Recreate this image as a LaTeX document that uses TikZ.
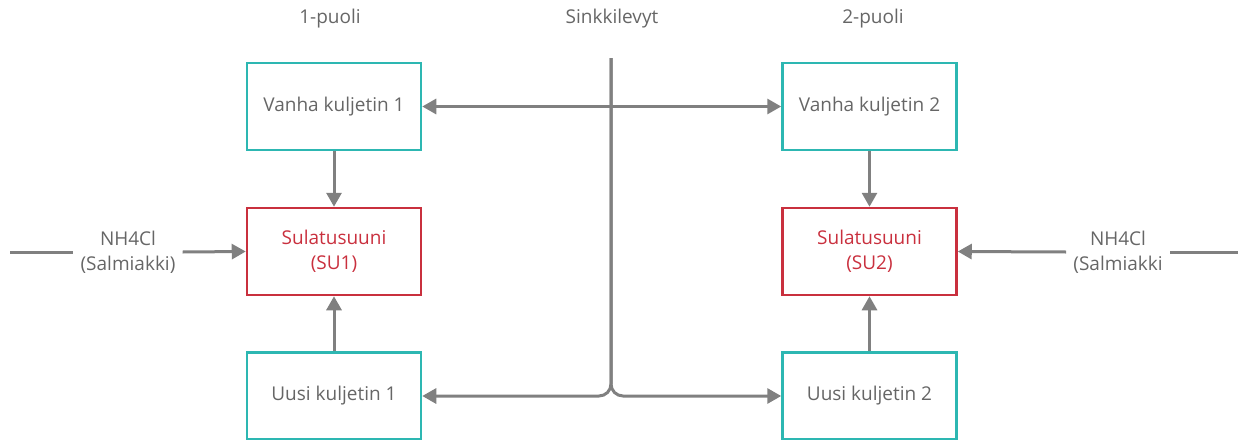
\documentclass[tikz,border=0pt]{standalone}
\usepackage{fontspec}
\setmainfont{Open Sans}
\usetikzlibrary{arrows.meta}
\definecolor{tealbox}{HTML}{2DB7B2}
\definecolor{redbox}{HTML}{C9303E}
\definecolor{linegray}{HTML}{808080}
\definecolor{textgray}{HTML}{666666}
\begin{document}
\begin{tikzpicture}[x=1pt,y=-1pt,
  every node/.style={font=\fontsize{19}{25}\selectfont, text=textgray, align=center},
  conveyor/.style={draw=tealbox, line width=2.5pt, minimum width=174pt, minimum height=87pt, inner sep=0pt},
  furnace/.style={draw=redbox, line width=2.5pt, minimum width=174pt, minimum height=87pt, inner sep=0pt, text=redbox},
  feedlabel/.style={inner sep=7pt},
  flow/.style={draw=linegray, line width=3pt, -{Triangle[length=14pt,width=15pt]}},
  flowboth/.style={draw=linegray, line width=3pt, {Triangle[length=14pt,width=15pt]}-{Triangle[length=14pt,width=15pt]}},
  plain/.style={draw=linegray, line width=3pt}]
\useasboundingbox (0,0) rectangle (1238,439);

% headings
\node (side1) at (330,19) {1-puoli};
\node (sheets) at (612,19) {Sinkkilevyt};
\node (side2) at (873,19) {2-puoli};

% side 1
\node[conveyor] (old1) at (334,106.5) {Vanha kuljetin 1};
\node[furnace] (su1) at (334,251.5) {Sulatusuuni\\(SU1)};
\node[conveyor] (new1) at (334,396) {Uusi kuljetin 1};

% side 2
\node[conveyor] (old2) at (869.5,106.5) {Vanha kuljetin 2};
\node[furnace] (su2) at (869.5,251.5) {Sulatusuuni\\(SU2)};
\node[conveyor] (new2) at (869.5,396) {Uusi kuljetin 2};

% ammonium chloride feeds
\node[feedlabel] (salt1) at (128,252) {NH4Cl\\(Salmiakki)};
\node[feedlabel] (salt2) at (1118,252) {NH4Cl\\(Salmiakki};
\coordinate (feed1) at (10,252);
\coordinate (feed2) at (1238,252);

% zinc sheet line
\coordinate (sheettop) at (611,58);

\draw[plain] (feed1) -- (salt1.west);
\draw[flow] (salt1.east) -- (su1.west);
\draw[plain] (feed2) -- (salt2.east);
\draw[flow] (salt2.west) -- (su2.east);

\draw[flow] (old1) -- (su1);
\draw[flow] (new1) -- (su1);
\draw[flow] (old2) -- (su2);
\draw[flow] (new2) -- (su2);

\draw[flowboth] (old1.east) -- (old2.west);
\draw[flow, rounded corners=12pt] (sheettop) |- (new1.east);
\draw[flow, rounded corners=12pt] (sheettop) |- (new2.west);
\end{tikzpicture}
\end{document}
